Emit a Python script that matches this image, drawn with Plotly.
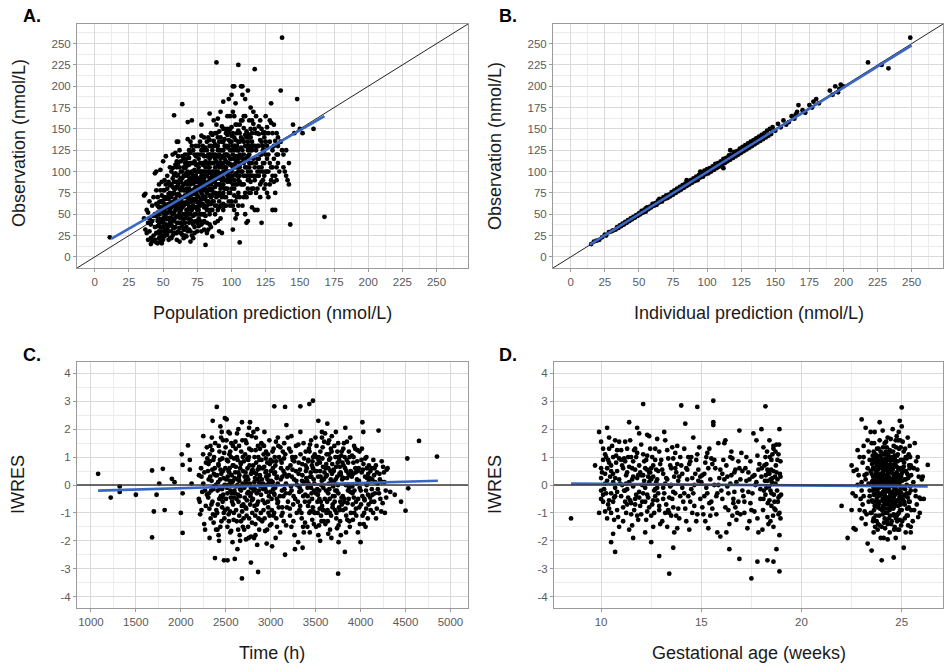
import plotly.graph_objects as go

# ---------------- DATA ----------------
# Panel A: (population prediction, observation) in nmol/L - outer cloud and outliers
A_PRED_OBS = [
    (11, 23),
    (36,72),(37,74),(38,55),(39,40),(40,30),(41,22),(42,18),(43,48),(44,35),(45,62),(38,28),(40,45),(42,60),(44,20),
    (39,52),(41,38),(43,25),(45,17),(37,32),(44,98),(45,100),(42,42),(40,65),(43,70),(36,45),(45,28),(44,50),(41,15),(39,20),(45,78),
    (46,16),(47,22),(48,35),(49,55),(50,45),(51,30),(52,68),(53,80),(54,52),(55,40),(46,60),(47,85),(48,18),(49,72),(50,25),
    (51,90),(52,38),(53,58),(54,20),(55,75),(46,42),(47,50),(48,65),(49,30),(50,112),(51,48),(52,27),(53,95),(54,62),(55,105),
    (46,28),(47,38),(48,78),(49,16),(50,58),(51,70),(52,50),(53,33),(54,88),(55,22),(48,102),(50,78),(52,118),(54,44),(47,64),
    (49,88),(51,24),(53,45),(55,56),(50,35),
    (56,30),(57,50),(58,65),(59,80),(60,95),(61,110),(62,40),(63,55),(64,70),(65,85),(56,100),(57,120),(58,166),(59,35),(60,20),
    (61,48),(62,62),(63,78),(64,92),(65,105),(56,45),(57,25),(58,88),(59,55),(60,72),(61,135),(62,125),(63,28),(64,179),(65,60),
    (56,70),(57,82),(58,42),(59,98),(60,112),(61,65),(62,90),(63,100),(64,45),(65,32),(56,58),(57,35),(58,75),(59,122),(60,48),
    (61,85),(62,18),(63,68),(64,118),(65,50),(57,92),(59,68),(61,40),(63,88),(65,95),(58,52),(60,82),(62,72),(64,58),(60,135),
    (66,40),(67,55),(68,75),(69,90),(70,110),(71,130),(72,60),(73,80),(74,95),(75,120),(66,25),(67,70),(68,158),(69,50),(70,85),
    (71,100),(72,140),(73,35),(74,65),(75,88),(66,95),(67,115),(68,45),(69,68),(70,30),(71,75),(72,95),(73,112),(74,50),(75,72),
    (66,62),(67,88),(68,100),(69,125),(70,58),(71,42),(72,78),(73,92),(74,130),(75,55),(66,78),(67,35),(68,62),(69,108),(70,72),
    (71,160),(72,22),(73,65),(74,82),(75,100),(67,98),(69,80),(71,88),(73,120),(75,40),(68,85),(70,98),(72,110),(74,108),(66,110),
    (68,120),(70,135),(72,48),(74,75),(70,18),
    (76,60),(77,85),(78,100),(79,120),(80,140),(81,70),(82,95),(83,110),(84,130),(85,55),(76,90),(77,110),(78,75),(79,50),(80,88),
    (81,105),(82,125),(83,65),(84,80),(85,98),(76,115),(77,135),(78,155),(79,95),(80,68),(81,14),(82,55),(83,88),(84,105),(85,120),
    (76,45),(77,65),(78,88),(79,108),(80,118),(81,85),(82,75),(83,140),(84,62),(85,85),(76,130),(77,50),(78,125),(79,72),(80,100),
    (81,128),(82,40),(83,98),(84,115),(85,70),(77,100),(79,85),(81,95),(83,78),(85,145),(78,38),(80,78),(82,110),(84,92),(86,24),
    (84,168),(85,35),(80,50),(82,85),(78,110),
    (86,80),(87,100),(88,120),(89,228),(90,140),(91,65),(92,85),(93,105),(94,125),(95,150),(86,110),(87,130),(88,90),(89,70),(90,55),
    (91,95),(92,115),(93,135),(94,75),(95,100),(86,65),(87,75),(88,105),(89,155),(90,118),(91,85),(92,45),(93,90),(94,110),(95,130),
    (86,125),(87,160),(88,60),(89,95),(90,100),(91,120),(92,140),(93,70),(94,92),(95,80),(87,88),(89,112),(91,105),(93,118),(95,60),
    (88,75),(90,85),(92,98),(94,150),(90,162),(92,170),(94,182),(88,145),(91,30),(93,28),(95,115),(86,95),(89,130),(92,60),(94,100),
    (96,90),(97,110),(98,130),(99,75),(100,100),(101,120),(102,140),(103,85),(104,105),(105,125),(96,145),(97,165),(98,185),(99,115),
    (100,135),(101,60),(102,90),(103,110),(104,70),(105,148),(96,70),(97,95),(98,100),(99,150),(100,80),(101,105),(102,115),(103,130),
    (104,145),(105,90),(96,120),(97,80),(98,65),(99,95),(100,190),(101,200),(102,200),(103,180),(104,125),(105,225),(96,105),(98,118),
    (100,115),(102,72),(104,95),(106,17),(105,60),(103,45),(101,32),(99,135),(97,128),(100,152),(102,165),(104,112),(106,105),
    (106,120),(107,140),(108,85),(109,110),(110,130),(111,147),(112,100),(113,120),(114,75),(115,95),(106,155),(107,200),(108,200),
    (109,165),(110,105),(111,115),(112,135),(113,90),(114,140),(115,125),(106,88),(107,100),(108,125),(109,70),(110,50),(111,40),
    (112,80),(113,160),(114,110),(115,58),(108,190),(110,185),(112,195),(114,175),(107,118),(109,135),(111,95),(113,105),(115,145),
    (108,60),(110,115),(112,42),(114,125),(106,135),(113,140),
    (116,95),(117,220),(118,110),(119,130),(120,153),(121,85),(122,105),(123,125),(124,140),(125,165),(116,170),(117,130),(118,75),
    (119,55),(120,115),(121,160),(122,40),(123,100),(124,80),(125,120),(116,115),(118,145),(120,95),(122,135),(124,110),(117,55),
    (119,100),(121,120),(123,145),(125,100),(116,156),(118,165),(120,130),(122,88),(124,146),
    (126,130),(127,145),(128,110),(129,90),(130,125),(131,155),(132,75),(133,105),(134,140),(126,100),(127,70),(128,160),(129,180),
    (130,55),(131,88),(132,95),(133,120),(134,130),(126,75),(128,85),(130,105),(132,55),(134,110),(126,152),(130,145),
    (136,195),(137,257),(138,120),(139,100),(140,125),(141,90),(142,110),(143,38),(145,155),(146,145),(148,185),(150,150),(152,145),
    (160,150),(168,47),(136,135),(138,105),(140,95),(137,125),(142,85),
]
# Panel A: dense core of the cloud
A_PRED_OBS_CORE = [
    (45,48),(46,52),(47,30),(48,58),(49,42),(50,66),(51,55),(52,44),(53,70),(54,36),(55,62),(46,36),(47,58),(48,26),(49,64),(50,40),
    (51,62),(52,32),(53,52),(54,74),(55,46),(46,70),(48,44),(50,52),(52,60),(54,30),(47,44),(49,24),(51,78),(53,26),(55,84),(50,20),
    (52,85),(54,68),
    (56,52),(57,62),(58,34),(59,46),(60,58),(61,74),(62,52),(63,40),(64,82),(65,70),(56,64),(57,44),(58,96),(59,62),(60,40),(61,56),
    (62,80),(63,92),(64,36),(65,44),(56,85),(57,74),(58,28),(59,108),(60,65),(61,30),(62,105),(63,48),(64,100),(65,78),(56,38),(58,60),
    (60,88),(62,34),(64,64),(57,104),(59,28),(61,96),(63,112),(65,22),(58,80),(60,105),(62,46),(64,26),(56,22),(59,88),(61,118),(63,60),
    (65,115),(60,28),
    (66,50),(67,64),(68,88),(69,58),(70,78),(71,92),(72,68),(73,50),(74,88),(75,64),(66,72),(67,80),(68,54),(69,98),(70,64),(71,55),
    (72,86),(73,102),(74,58),(75,80),(66,86),(67,46),(68,110),(69,40),(70,92),(71,110),(72,38),(73,74),(74,118),(75,92),(66,104),
    (67,106),(68,30),(69,116),(70,44),(71,65),(72,100),(73,58),(74,42),(75,108),(66,32),(68,95),(70,122),(72,125),(74,100),(67,24),
    (69,32),(71,25),(73,28),(75,30),(66,120),(68,138),(70,50),(72,90),(74,68),
    (76,70),(77,92),(78,62),(79,100),(80,92),(81,112),(82,65),(83,85),(84,100),(85,78),(76,100),(77,78),(78,95),(79,62),(80,110),
    (81,58),(82,100),(83,120),(84,72),(85,110),(76,82),(77,120),(78,50),(79,130),(80,58),(81,95),(82,118),(83,55),(84,137),(85,92),
    (76,55),(77,42),(78,142),(79,82),(80,125),(81,80),(82,135),(83,105),(84,50),(85,130),(76,105),(78,68),(80,42),(82,60),(84,120),
    (77,60),(79,40),(81,48),(83,32),(85,62),(78,30),(80,32),(82,28),(84,38),(76,36),
    (86,90),(87,110),(88,82),(89,100),(90,125),(91,75),(92,108),(93,95),(94,85),(95,120),(86,100),(87,92),(88,115),(89,85),(90,72),
    (91,110),(92,80),(93,125),(94,118),(95,90),(86,72),(87,120),(88,98),(89,118),(90,108),(91,58),(92,125),(93,82),(94,62),(95,138),
    (86,118),(87,65),(88,132),(89,60),(90,92),(91,135),(92,92),(93,60),(94,135),(95,105),(86,55),(88,50),(90,42),(92,72),(94,55),
    (87,136),(89,145),(91,147),(93,153),(95,70),(86,143),(88,40),(90,130),(92,110),
    (96,100),(97,120),(98,92),(99,108),(100,125),(101,85),(102,108),(103,98),(104,118),(105,105),(96,112),(97,100),(98,137),(99,88),
    (100,108),(101,130),(102,125),(103,118),(104,85),(105,115),(96,80),(97,143),(98,110),(99,125),(100,92),(101,95),(102,80),(103,137),
    (104,130),(105,75),(96,130),(97,88),(98,75),(99,60),(100,142),(101,145),(102,130),(103,65),(104,155),(105,135),(96,60),(98,146),
    (100,65),(102,55),(104,50),(97,150),(99,165),(101,170),(103,155),(105,100),
    (106,110),(107,128),(108,115),(109,120),(110,95),(111,130),(112,118),(113,110),(114,100),(115,110),(106,95),(107,85),(108,138),
    (109,95),(110,143),(111,105),(112,90),(113,130),(114,130),(115,80),(106,145),(107,110),(108,100),(109,151),(110,75),(111,140),
    (112,144),(113,75),(114,88),(115,135),(106,70),(108,160),(110,165),(112,125),(114,150),(107,160),(109,85),(111,70),(113,95),(115,160),
    (116,130),(117,105),(118,125),(119,115),(120,105),(121,137),(122,120),(123,110),(124,125),(125,135),(116,80),(117,150),(118,95),
    (119,145),(120,144),(121,100),(122,150),(123,90),(124,95),(125,145),(117,90),(119,80),(121,70),(123,130),(125,85),
    (126,115),(127,120),(128,135),(129,105),(130,95),(131,115),(132,136),(133,90),(134,120),(127,100),(129,157),(131,130),(133,145),(135,100),
]

# Panel B: (individual prediction, observation) in nmol/L
B_IPRED_OBS = [
    (15,15),(17,18),(19,19),(21,20),(23,23),(25,26),(26,25),(28,29),(30,30),(31,31),(33,32),(34,35),(35,34),(36,37),(37,36),
    (38,39),(39,38),(40,41),(41,40),(42,43),(43,42),(44,45),(45,44),(46,47),(47,46),(48,49),(49,48),(50,51),(51,50),(52,54),
    (53,52),(54,55),(55,53),(56,58),(57,56),(58,59),(59,58),(60,62),(61,60),(62,63),(63,61),(64,66),(65,64),(66,67),(67,65),
    (68,70),(69,68),(70,72),(71,69),(72,73),(73,71),(74,76),(75,73),(76,78),(77,75),(78,80),(79,77),(80,82),(81,79),(82,84),
    (83,81),(84,86),(85,83),(86,88),(87,85),(88,90),(89,87),(90,92),(91,89),(92,94),(93,90),(94,96),(95,93),(96,98),(97,94),
    (98,101),(99,97),(100,103),(101,98),(102,104),(103,100),(104,106),(105,102),(106,109),(107,104),(108,110),(109,106),(110,112),
    (111,108),(112,115),(113,110),(114,116),(115,112),(116,119),(117,114),(118,120),(119,116),(120,123),(121,118),(122,124),
    (123,120),(124,127),(125,122),(126,129),(127,124),(128,131),(129,126),(130,133),(131,128),(132,135),(133,130),(134,137),
    (135,132),(136,139),(137,134),(138,141),(139,136),(140,143),(141,138),(142,145),(143,140),(144,148),(145,142),(146,150),
    (147,144),(148,152),(150,148),(152,156),(154,152),(156,160),(158,155),(160,158),(162,165),(164,162),(166,170),(167,178),
    (165,167),(170,172),(172,169),(175,178),(177,175),(178,182),(180,185),(182,180),(190,195),(192,190),(194,200),(196,193),
    (198,202),(200,200),(197,197),(218,228),(228,225),(233,221),(249,257),(112,104),(117,125),(95,100),(85,90),(65,68),(55,57),
    (40,40),(42,42),(44,44),(46,46),(48,48),(50,50),(52,52),(54,54),(56,56),(58,58),(60,60),(62,61),(64,64),(66,65),(68,68),
    (70,70),(72,71),(74,74),(76,75),(78,78),(80,80),(82,81),(84,84),(86,85),(88,88),(90,90),(92,91),(94,94),(96,95),(98,98),
    (100,100),(102,101),(104,104),(106,105),(108,108),(110,110),(112,111),(114,114),(116,115),(118,118),(120,120),(122,121),
    (124,124),(126,125),(128,128),(130,130),(132,131),(134,134),(136,135),(138,138),
]

# Panel C: (time in h, IWRES) - sparse part and outliers
C_TIME_IWRES = [
    (1080,0.4),(1220,-0.45),(1320,-0.05),(1320,-0.25),(1500,-0.35),(1680,0.52),(1680,-1.88),(1700,-0.95),(1730,-0.35),(1760,0.05),
    (1800,0.58),(1820,-0.9),(1900,0.22),(1930,0.1),(2000,-1.0),(2010,1.1),(2020,0.72),(2020,-1.72),(2020,-0.3),(2080,1.42),
    (2100,0.9),(2100,0.55),(2120,0.05),(2400,2.8),(2480,-2.7),(2520,-2.7),(2380,-2.62),(2600,-2.65),(2680,-3.35),(2780,-2.78),
    (2860,-3.12),(3040,2.82),(3160,2.8),(3330,2.82),(3430,2.9),(3470,3.02),(3750,-3.18),(4000,-2.05),(4020,2.25),(4200,1.95),
    (4520,0.95),(4530,-0.12),(4650,1.58),(4850,1.02),(4500,-0.92),(4270,-1.0),(4330,-0.25),(4380,-0.35),(4450,-0.6),(4300,0.6),
    (2210,-0.6),(2230,0.3),(2250,1.75),(2260,-1.4),(2270,-0.2),(2280,0.8),(2230,-0.9),(2290,1.35),(2250,0.05),(2270,-1.6),(2200,-0.5),(2290,-0.35),
    (2310,0.2),(2320,-1.9),(2330,1.4),(2340,-0.7),(2350,0.55),(2360,-0.15),(2370,1.0),(2380,-1.1),(2390,0.0),(2305,-0.45),(2325,0.85),
    (2345,1.7),(2365,-1.35),(2385,0.35),(2395,-0.9),(2355,2.3),
    (2410,-0.2),(2420,0.7),(2430,1.2),(2440,-1.5),(2450,0.4),(2460,-0.8),(2470,1.6),(2480,-0.05),(2490,2.4),(2405,-1.0),(2415,0.1),
    (2425,-2.0),(2435,0.9),(2445,-0.4),(2455,1.9),(2465,-0.6),(2475,0.25),(2485,-1.2),(2495,0.6),(2440,2.1),
    (2510,2.35),(2520,-0.3),(2530,0.5),(2540,1.1),(2550,-1.7),(2560,0.05),(2570,-0.6),(2580,1.4),(2590,-1.0),(2505,0.2),(2515,-0.1),
    (2525,0.85),(2535,-1.3),(2545,1.85),(2555,-0.45),(2565,0.35),(2575,-2.05),(2585,0.7),(2595,-0.2),(2550,1.2),(2520,-0.85),(2580,0.15),
    (2610,1.3),(2620,-0.5),(2630,0.0),(2640,2.0),(2650,-1.1),(2660,0.6),(2670,-0.2),(2680,2.25),(2690,-1.5),(2605,0.45),(2615,-0.9),
    (2625,1.0),(2635,-0.35),(2645,0.25),(2655,-1.8),(2665,0.8),(2675,-0.05),(2685,1.6),(2695,-0.7),(2650,0.15),(2630,-2.3),(2670,-1.3),
    (2710,0.3),(2720,-0.8),(2730,1.5),(2740,-0.3),(2750,0.9),(2760,-1.2),(2770,2.25),(2780,-0.1),(2790,0.5),(2705,-1.6),(2715,1.1),
    (2725,0.05),(2735,-0.55),(2745,1.8),(2755,-1.9),(2765,0.7),(2775,-0.4),(2785,1.25),(2795,-1.0),(2750,0.2),(2720,0.45),(2780,-1.85),
    (2810,-0.2),(2820,1.0),(2830,-1.4),(2840,0.4),(2850,2.0),(2860,-0.6),(2870,0.1),(2880,1.3),(2890,-1.0),(2805,0.7),(2815,-1.9),
    (2825,0.25),(2835,1.7),(2845,-0.3),(2855,0.55),(2865,-1.2),(2875,0.9),(2885,-0.05),(2895,1.5),(2850,-2.15),(2820,-0.75),(2880,0.35),
    (2910,0.6),(2920,-0.9),(2930,1.9),(2940,-0.15),(2950,0.3),(2960,-1.6),(2970,1.1),(2980,-0.4),(2990,0.75),(2905,-1.3),(2915,0.05),
    (2925,1.4),(2935,-0.65),(2945,0.95),(2955,-2.1),(2965,0.2),(2975,-1.0),(2985,1.6),(2995,-0.25),(2950,0.5),
    (3010,-0.5),(3020,1.2),(3030,-1.1),(3040,0.4),(3050,-0.1),(3060,0.85),(3070,-1.5),(3080,1.7),(3090,-0.8),(3005,0.15),(3015,-2.2),
    (3025,0.6),(3035,-0.3),(3045,1.0),(3055,-1.9),(3065,0.25),(3075,-0.65),(3085,1.4),
    (3110,0.9),(3120,-1.1),(3130,0.3),(3140,-0.4),(3150,1.5),(3160,-2.5),(3170,0.05),(3180,-0.8),(3190,1.7),(3105,-1.7),(3115,0.6),
    (3125,-0.2),(3135,1.2),(3145,-1.3),(3155,0.4),(3175,2.15),
    (3210,-0.3),(3220,0.7),(3230,-1.5),(3240,1.0),(3250,-0.7),(3260,0.2),(3270,-2.3),(3280,0.5),(3290,-1.0),(3205,1.3),(3225,-0.05),
    (3245,0.9),(3265,-1.8),(3285,0.15),(3230,1.75),
    (3310,0.4),(3320,-0.9),(3330,1.9),(3340,-0.2),(3350,0.75),(3360,-1.5),(3370,0.1),(3380,-0.6),(3390,1.2),(3305,-2.05),(3325,0.55),
    (3345,-1.2),(3365,1.5),(3385,-0.35),(3395,0.25),(3355,-2.25),
    (3410,-0.1),(3420,0.9),(3430,-1.0),(3440,0.3),(3450,1.6),(3460,-0.5),(3470,0.6),(3480,-1.4),(3490,1.1),(3405,0.15),(3415,-0.75),
    (3425,1.3),(3435,-1.7),(3445,0.45),(3455,-0.3),(3465,0.85),(3475,-0.95),(3485,0.05),
    (3510,1.4),(3520,-0.6),(3530,2.3),(3540,-0.2),(3550,0.5),(3560,-1.1),(3570,1.7),(3580,-0.9),(3590,0.2),(3505,-1.5),(3515,0.75),
    (3525,-0.35),(3535,1.0),(3545,-0.85),(3555,0.3),(3565,-1.3),(3575,0.95),(3585,-0.1),(3595,1.55),(3550,-2.0),
    (3610,0.6),(3620,-1.0),(3630,2.2),(3640,-0.3),(3650,0.9),(3660,-1.6),(3670,1.3),(3680,0.1),(3690,-0.7),(3605,1.85),(3615,-0.2),
    (3625,0.35),(3635,-1.3),(3645,1.1),(3655,-0.5),(3665,0.5),(3675,-1.9),(3685,0.75),(3695,-0.05),(3650,1.6),
    (3710,-0.4),(3720,1.0),(3730,-1.2),(3740,0.3),(3750,1.5),(3760,-0.8),(3770,0.65),(3780,-1.8),(3790,1.2),(3705,0.1),(3715,-0.9),
    (3725,1.9),(3735,-0.2),(3745,0.8),(3755,-1.45),(3765,0.4),(3775,-0.6),(3785,1.05),(3795,0.2),(3755,-2.05),
    (3810,0.7),(3820,-0.5),(3830,2.05),(3840,-1.1),(3850,0.25),(3860,-0.2),(3870,1.2),(3880,-1.5),(3890,0.5),(3805,-0.9),(3815,1.5),
    (3825,-2.4),(3835,0.0),(3845,0.9),(3855,-0.65),(3865,0.4),(3875,-1.3),(3885,1.7),
    (3910,-0.3),(3920,0.8),(3930,-1.0),(3940,1.3),(3950,-0.6),(3960,0.2),(3970,-1.7),(3980,0.6),(3990,-0.1),(3905,1.05),(3925,-0.45),
    (3945,0.45),(3965,1.25),(3985,-0.8),(3915,-1.25),(3955,0.05),
    (4010,0.9),(4020,-0.4),(4030,1.9),(4040,-1.0),(4050,0.3),(4060,-0.2),(4070,0.6),(4080,-1.2),(4090,0.1),(4005,-0.7),(4025,0.55),
    (4045,-0.55),(4065,1.0),(4085,0.4),(4055,-1.5),
    (4110,0.5),(4120,-0.6),(4130,0.2),(4140,-1.0),(4150,0.35),(4160,-0.3),(4170,0.7),(4180,-0.85),(4190,0.05),(4125,-0.15),(4155,0.6),(4105,-0.45),
    (4210,0.4),(4220,-0.5),(4240,0.1),(4260,0.45),(4280,-0.2),(4230,-0.95),(4250,0.65),(4290,0.55),
]
# Panel C: dense core
C_TIME_IWRES_CORE = [
    (2202,0.35),(2215,-1.05),(2225,0.6),(2238,-0.25),(2248,1.1),(2262,0.45),(2278,-0.75),(2295,0.95),
    (2302,0.5),(2312,-0.3),(2322,1.1),(2332,-1.2),(2342,0.15),(2352,-0.6),(2362,0.9),(2372,-0.05),(2382,1.5),(2392,-1.6),(2308,0.75),
    (2318,-0.85),(2328,0.3),(2338,-0.2),(2348,1.25),(2358,-1.05),(2368,0.4),(2378,0.6),
    (2402,0.35),(2412,-0.7),(2422,1.4),(2432,-0.1),(2442,0.55),(2452,-1.3),(2462,0.95),(2472,-0.35),(2482,1.15),(2492,-0.9),(2408,-1.6),
    (2418,0.75),(2428,-0.5),(2438,0.2),(2448,1.7),(2458,-0.15),(2468,0.5),(2478,-1.0),(2488,0.0),(2498,1.35),(2420,-1.8),(2460,-0.45),
    (2502,-0.5),(2512,0.9),(2522,0.3),(2532,-1.05),(2542,0.6),(2552,-0.2),(2562,1.5),(2572,0.1),(2582,-0.7),(2592,0.95),(2508,1.6),
    (2518,-1.5),(2528,0.0),(2538,0.45),(2548,-0.95),(2558,1.0),(2568,-0.3),(2578,0.7),(2588,-1.25),(2598,0.25),(2530,1.9),(2560,-1.65),
    (2590,-0.45),(2545,0.15),
    (2602,-0.3),(2612,0.65),(2622,-1.3),(2632,0.9),(2642,-0.6),(2652,0.35),(2662,-0.15),(2672,1.2),(2682,-0.95),(2692,0.5),(2608,1.55),
    (2618,-0.05),(2628,0.2),(2638,-1.6),(2648,1.4),(2658,-0.4),(2668,0.75),(2678,-0.75),(2688,0.05),(2698,-1.2),(2625,1.85),(2660,-2.0),
    (2690,1.0),(2640,0.45),
    (2702,0.85),(2712,-0.45),(2722,0.15),(2732,-1.1),(2742,0.6),(2752,-0.25),(2762,1.3),(2772,-0.7),(2782,0.4),(2792,-1.35),(2708,-0.1),
    (2718,1.6),(2728,-0.85),(2738,0.3),(2748,-1.5),(2758,1.0),(2768,0.05),(2778,-0.3),(2788,1.75),(2798,0.55),(2725,-1.95),(2760,2.05),
    (2790,-0.55),(2740,0.95),
    (2802,-0.5),(2812,0.45),(2822,-0.15),(2832,1.25),(2842,-0.9),(2852,0.2),(2862,1.0),(2872,-1.6),(2882,0.6),(2892,-0.35),(2808,1.9),
    (2818,0.1),(2828,-1.1),(2838,0.8),(2848,-0.7),(2858,1.4),(2868,-0.2),(2878,0.3),(2888,-1.25),(2898,0.9),(2830,-1.8),(2870,0.65),
    (2902,0.2),(2912,-0.55),(2922,1.1),(2932,-1.2),(2942,0.45),(2952,-0.25),(2962,0.8),(2972,-0.8),(2982,0.1),(2992,-1.45),(2908,1.45),
    (2918,-0.15),(2928,0.65),(2938,-1.65),(2948,1.2),(2958,0.0),(2968,-0.6),(2978,0.35),(2988,-1.1),(2998,0.9),
    (3002,0.5),(3012,-0.9),(3022,0.1),(3032,1.3),(3042,-0.35),(3052,0.7),(3062,-1.2),(3072,0.3),(3082,-0.6),(3092,1.0),(3008,-1.4),
    (3018,0.85),(3028,-0.15),(3038,-1.0),(3048,0.45),(3058,1.55),(3068,-0.5),(3078,0.05),
    (3102,-0.4),(3112,0.2),(3122,0.8),(3132,-1.0),(3142,0.5),(3152,-0.15),(3162,1.1),(3172,-1.45),(3182,0.3),(3192,-0.6),(3108,1.35),
    (3128,-0.8),(3148,0.95),(3168,-0.3),(3188,0.6),
    (3202,0.35),(3212,-0.85),(3222,1.2),(3232,-0.2),(3242,0.55),(3252,-1.3),(3262,0.85),(3272,-0.5),(3282,1.4),(3292,0.0),(3215,-1.1),
    (3235,0.3),(3255,-0.4),(3275,1.0),
    (3302,-0.6),(3312,0.8),(3322,-0.1),(3332,1.1),(3342,-1.0),(3352,0.35),(3362,-0.4),(3372,0.95),(3382,-1.35),(3392,0.5),(3308,1.45),
    (3328,-0.75),(3348,0.15),(3368,-1.7),(3388,0.7),(3318,-0.25),
    (3402,0.6),(3412,-0.4),(3422,0.05),(3432,1.2),(3442,-0.95),(3452,0.3),(3462,-1.25),(3472,1.0),(3482,-0.2),(3492,0.5),(3408,-1.5),
    (3418,0.85),(3428,-0.6),(3438,1.45),(3448,-0.1),(3458,0.7),(3468,-0.8),(3478,0.2),(3488,-1.0),(3498,1.7),
    (3502,-0.3),(3512,0.5),(3522,-1.0),(3532,0.9),(3542,-0.5),(3552,1.2),(3562,0.0),(3572,-0.75),(3582,0.65),(3592,-1.3),(3508,1.0),
    (3518,-0.15),(3528,0.3),(3538,-1.45),(3548,0.8),(3558,-0.6),(3568,0.15),(3578,1.35),(3588,-0.9),(3598,0.45),(3530,-1.8),(3570,1.9),
    (3602,-0.5),(3612,0.3),(3622,1.1),(3632,-0.9),(3642,0.6),(3652,-0.15),(3662,0.95),(3672,-1.1),(3682,0.4),(3692,-0.4),(3608,-1.4),
    (3618,0.75),(3628,-0.6),(3638,1.5),(3648,0.05),(3658,-1.0),(3668,0.2),(3678,1.2),(3688,-0.8),(3698,0.55),(3640,-1.75),(3680,1.75),
    (3702,0.5),(3712,-0.6),(3722,0.2),(3732,-1.0),(3742,1.2),(3752,-0.3),(3762,0.9),(3772,-1.3),(3782,0.35),(3792,-0.7),(3708,1.4),
    (3718,-0.2),(3728,0.65),(3738,-1.55),(3748,0.0),(3758,1.0),(3768,-0.9),(3778,0.45),(3788,-0.45),(3798,0.8),
    (3802,-0.4),(3812,0.25),(3822,1.0),(3832,-0.85),(3842,0.5),(3852,-1.25),(3862,0.8),(3872,-0.1),(3882,0.35),(3892,-1.0),(3808,1.3),
    (3818,-0.6),(3828,0.6),(3838,-1.7),(3848,1.55),(3858,0.0),(3868,-0.5),(3878,1.0),(3888,-0.25),(3898,0.45),
    (3902,0.3),(3912,-0.7),(3922,1.0),(3932,-0.2),(3942,0.6),(3952,-1.1),(3962,0.85),(3972,-0.5),(3982,0.15),(3992,-1.4),(3908,-0.05),
    (3928,1.4),(3948,-0.85),(3968,0.5),(3988,1.2),(3918,0.4),
    (4002,-0.2),(4012,0.45),(4022,-1.1),(4032,0.75),(4042,-0.5),(4052,0.95),(4062,-0.85),(4072,0.25),(4082,-0.35),(4092,0.7),(4015,1.3),
    (4035,-1.4),(4068,0.0),(4088,-0.7),
    (4102,0.25),(4112,-0.9),(4122,0.6),(4132,-0.35),(4142,0.9),(4152,-0.6),(4162,0.1),(4172,-1.2),(4182,0.45),(4192,-0.15),
    (4205,-0.3),(4215,0.2),(4235,0.85),(4245,-0.65),(4265,0.1),(4285,-0.45),
]

# Panel D: (gestational age in weeks, IWRES) - sparse part and outliers
D_GA_IWRES = [
    (8.5,-1.2),(9.7,0.7),(12.1,2.9),(14.0,2.85),(14.8,2.8),(15.6,3.02),(18.2,2.82),(13.4,-3.18),(17.5,-3.35),(18.9,-3.1),
    (12.9,-2.55),(13.6,-2.25),(10.7,-2.4),(10.5,-2.05),(16.4,-2.3),(16.9,-2.65),(17.8,-2.75),(18.3,-2.7),(18.6,-2.75),
    (22.0,-0.75),(22.3,-1.9),(22.5,-0.9),(23.0,2.35),(24.0,-2.7),(24.6,-2.6),(25.0,2.78),(26.3,0.72),(23.9,2.25),(25.1,-2.25),
    (9.9,1.9),(10.0,1.55),(10.1,0.9),(10.2,0.4),(10.0,-0.2),(10.1,-0.6),(9.9,-1.0),(10.3,2.05),(10.4,1.3),(10.5,0.7),(10.6,0.1),
    (10.7,-0.4),(10.8,-0.9),(10.3,-1.2),(10.5,-0.3),(10.6,1.0),(10.8,0.5),(10.2,0.05),(10.4,-0.55),(10.7,1.6),(10.9,-1.5),(10.0,0.25),
    (10.6,-1.75),(10.3,0.6),(10.8,1.25),(10.1,-0.35),(10.4,0.8),(10.9,0.2),(10.5,-1.0),(10.7,-0.1),(10.2,1.1),(10.9,1.55),(10.0,0.6),
    (10.6,0.4),(10.4,-0.85),
    (11.0,1.25),(11.1,0.6),(11.2,-0.2),(11.3,-0.7),(11.4,2.25),(11.5,1.0),(11.6,0.3),(11.7,-0.5),(11.8,-1.1),(11.9,1.85),(11.0,-0.4),
    (11.1,-1.3),(11.2,0.85),(11.3,1.3),(11.4,0.1),(11.5,-0.65),(11.6,-1.9),(11.7,0.55),(11.8,1.15),(11.9,-0.25),(11.05,0.0),(11.25,-1.0),
    (11.45,1.6),(11.65,-0.9),(11.85,0.35),(11.15,0.95),(11.35,-0.45),(11.55,-1.45),(11.75,1.0),(11.95,-0.75),(11.3,0.45),(11.6,-0.05),
    (11.9,0.7),(11.2,-0.6),(11.8,2.05),
    (12.0,1.45),(12.1,-0.3),(12.2,0.6),(12.3,1.8),(12.4,-0.8),(12.5,0.2),(12.6,-1.5),(12.7,0.9),(12.8,-0.1),(12.9,1.2),(12.0,-1.05),
    (12.1,0.35),(12.2,-0.6),(12.3,1.05),(12.4,0.45),(12.5,-2.05),(12.6,0.7),(12.7,-0.4),(12.8,1.65),(12.9,-0.9),(12.05,0.0),(12.25,-1.25),
    (12.45,1.3),(12.65,-0.2),(12.85,0.5),(12.15,0.85),(12.35,0.3),(12.55,-0.7),(12.75,0.1),(12.95,-1.4),(12.4,1.75),(12.2,-1.7),
    (12.6,0.3),(12.8,-0.55),(12.3,0.55),
    (13.0,0.9),(13.1,-0.5),(13.2,1.6),(13.3,0.2),(13.4,-1.0),(13.5,0.6),(13.6,-0.25),(13.7,1.15),(13.8,-1.55),(13.9,0.3),(13.05,-1.3),
    (13.15,1.9),(13.25,-0.7),(13.35,0.95),(13.45,-0.05),(13.55,1.35),(13.65,-1.7),(13.75,0.45),(13.85,-0.85),(13.95,1.0),(13.2,0.05),
    (13.5,-1.1),(13.8,0.75),(13.1,0.4),(13.4,-0.45),(13.7,-0.3),(13.3,-1.5),(13.6,0.95),
    (14.0,0.7),(14.1,-0.6),(14.2,2.2),(14.3,0.2),(14.4,-1.6),(14.5,1.0),(14.6,-0.3),(14.7,0.4),(14.8,-1.05),(14.9,1.35),(14.05,-0.1),
    (14.25,-1.3),(14.45,0.85),(14.65,-0.75),(14.85,0.15),(14.15,1.3),(14.35,-0.4),(14.55,-1.0),(14.75,0.9),(14.95,-0.5),(14.6,1.7),(14.3,0.55),
    (15.0,0.1),(15.1,-1.05),(15.2,0.8),(15.3,-0.3),(15.4,1.3),(15.5,-0.6),(15.6,2.15),(15.7,0.6),(15.8,-1.7),(15.9,0.25),(15.05,-0.8),
    (15.25,1.0),(15.45,-1.1),(15.65,0.0),(15.85,1.5),(15.15,0.4),(15.35,-1.55),(15.55,0.75),(15.75,-0.4),(15.95,-1.85),(15.6,2.25),(15.3,1.15),
    (16.0,-0.2),(16.1,0.9),(16.2,-0.8),(16.3,0.3),(16.4,-1.4),(16.5,1.2),(16.6,-0.5),(16.7,0.55),(16.8,-1.0),(16.9,1.95),(16.05,0.4),
    (16.25,-1.7),(16.45,0.05),(16.65,-0.25),(16.85,0.85),(16.15,1.5),(16.35,-0.9),(16.55,0.95),(16.75,-1.25),(16.95,0.2),(16.2,1.6),(16.6,-0.65),
    (17.0,1.15),(17.1,-0.4),(17.2,0.6),(17.3,-1.55),(17.4,0.2),(17.5,-0.9),(17.6,1.85),(17.7,0.0),(17.8,-1.2),(17.9,0.75),(17.05,-0.2),
    (17.25,1.0),(17.45,-0.65),(17.65,0.35),(17.85,-1.7),(17.15,-1.0),(17.35,0.45),(17.55,-0.3),(17.75,1.6),(17.95,-0.5),
    (18.0,0.3),(18.1,-0.5),(18.2,1.0),(18.3,-1.15),(18.4,0.4),(18.5,-0.3),(18.6,1.3),(18.7,-0.9),(18.8,0.2),(18.9,2.0),(18.05,-1.6),
    (18.15,0.7),(18.25,-0.1),(18.35,0.45),(18.45,-1.3),(18.55,0.25),(18.65,-0.6),(18.75,1.45),(18.85,-1.05),(18.95,0.3),(18.1,1.35),
    (18.3,0.55),(18.5,-0.75),(18.7,0.05),(18.9,-0.4),(18.2,-0.35),(18.4,1.6),(18.6,-1.5),(18.8,0.9),(18.95,-1.2),(18.3,0.15),(18.6,0.5),
    (18.85,1.1),(18.45,-0.2),(18.75,-2.3),(18.9,-1.8),(18.0,2.0),(18.5,0.9),(18.7,1.2),(18.4,-0.55),
    (22.5,0.7),(22.6,0.5),(22.7,-0.4),(22.8,1.25),(22.9,-0.9),(23.0,0.1),(23.1,1.4),(23.2,-1.4),(23.3,0.6),(23.4,-0.2),(22.6,-1.55),
    (22.9,1.0),(23.05,-0.7),(23.15,0.35),(23.25,-1.05),(23.35,1.2),(23.2,2.05),(23.3,-2.1),(22.8,0.0),(23.0,-1.2),(23.4,0.9),(23.1,-0.4),
    (22.7,-1.6),(23.35,-0.6),(23.45,1.9),
    (23.5,0.4),(23.55,-0.6),(23.6,1.2),(23.65,-0.1),(23.7,0.8),(23.75,-1.3),(23.8,0.25),(23.85,-0.4),(23.9,1.6),(23.95,0.0),(23.5,-1.0),
    (23.55,0.9),(23.6,-1.7),(23.65,0.55),(23.7,-0.3),(23.75,1.0),(23.8,-0.8),(23.85,0.3),(23.9,-1.45),(23.95,0.7),(23.5,1.5),(23.55,0.15),
    (23.6,-0.35),(23.65,1.9),(23.7,-1.1),(23.75,0.45),(23.8,-0.05),(23.85,1.3),(23.9,-0.6),(23.95,-1.9),(23.6,0.6),(23.7,0.15),(23.8,-0.25),
    (23.9,0.35),(23.55,-0.2),(23.65,-0.75),(23.75,-0.5),(23.85,0.85),(23.95,1.2),(23.5,-2.35),
    (24.0,0.3),(24.05,-0.5),(24.1,1.1),(24.15,-1.2),(24.2,0.6),(24.25,-0.2),(24.3,1.7),(24.35,0.05),(24.4,-0.9),(24.45,0.45),(24.0,-1.5),
    (24.05,0.8),(24.1,-0.1),(24.15,0.35),(24.2,-0.7),(24.25,1.35),(24.3,-1.4),(24.35,0.65),(24.4,0.2),(24.45,-0.35),(24.0,0.95),(24.05,0.1),
    (24.1,-0.6),(24.15,1.5),(24.2,-1.0),(24.25,0.25),(24.3,-0.45),(24.35,1.0),(24.4,-1.7),(24.45,0.75),(24.0,-0.3),(24.05,1.95),(24.1,0.5),
    (24.15,-0.85),(24.2,0.15),(24.25,-1.3),(24.3,0.4),(24.35,-0.15),(24.4,1.25),(24.45,-0.55),(24.1,-1.9),(24.2,1.2),(24.3,0.9),(24.4,-0.25),
    (24.15,0.0),(24.25,0.55),(24.35,-0.7),(24.05,-1.05),(24.45,1.65),(24.3,-1.95),
    (24.5,0.2),(24.55,-0.6),(24.6,1.4),(24.65,-0.15),(24.7,0.7),(24.75,-1.1),(24.8,0.35),(24.85,1.9),(24.9,-0.4),(24.95,0.9),(24.5,-1.3),
    (24.55,0.55),(24.6,-0.8),(24.65,1.05),(24.7,-0.3),(24.75,0.15),(24.8,-1.6),(24.85,0.6),(24.9,2.3),(24.95,-0.7),(24.5,1.0),(24.55,-0.05),
    (24.6,0.3),(24.65,-1.5),(24.7,1.6),(24.75,0.45),(24.8,-0.2),(24.85,-1.0),(24.9,0.1),(24.95,1.35),(24.6,-0.45),(24.7,-1.9),(24.8,1.1),
    (24.9,-1.25),(24.55,2.0),(24.65,0.75),(24.75,-0.55),(24.85,0.0),(24.95,-0.25),(24.5,0.65),(24.6,-1.05),(24.7,0.1),(24.8,0.85),
    (24.9,-0.6),(24.75,1.75),
    (25.0,0.4),(25.05,-0.5),(25.1,1.2),(25.15,-1.2),(25.2,0.2),(25.25,-0.3),(25.3,1.7),(25.35,-0.8),(25.4,0.6),(25.45,-1.5),(25.0,2.1),
    (25.05,0.9),(25.1,-0.1),(25.15,0.5),(25.2,-1.7),(25.25,0.95),(25.3,-0.45),(25.35,0.3),(25.4,1.4),(25.45,-0.2),(25.0,-0.9),(25.1,0.65),
    (25.2,1.0),(25.3,-1.1),(25.4,-0.6),(25.05,1.55),(25.15,-0.7),(25.25,0.0),(25.35,1.1),(25.45,0.7),
    (25.6,0.6),(25.7,-0.4),(25.8,1.0),(25.9,-1.0),(26.0,0.2),(25.65,1.5),(25.75,-0.7),(25.85,0.3),(25.95,-0.5),(25.55,-1.3),(26.1,-0.5),
]
# Panel D: dense core of both groups
D_GA_IWRES_CORE = [
    (10.05,0.45),(10.15,-0.15),(10.25,1.0),(10.35,-0.7),(10.45,0.3),(10.55,1.4),(10.65,-0.45),(10.75,0.8),(10.85,-1.15),(10.95,0.05),
    (10.1,1.3),(10.2,-0.95),(10.3,0.15),(10.4,1.7),(10.5,0.5),(10.6,-0.6),(10.7,0.25),(10.8,-0.25),(10.9,0.95),(10.0,-0.5),(10.35,0.9),
    (10.65,-1.25),(10.75,1.05),(10.25,-0.3),
    (11.05,0.7),(11.15,-0.2),(11.25,0.35),(11.35,1.0),(11.45,-0.55),(11.55,0.2),(11.65,1.25),(11.75,-0.35),(11.85,-1.25),(11.95,0.45),
    (11.1,-0.8),(11.2,1.55),(11.3,-0.15),(11.4,0.65),(11.5,-1.05),(11.6,0.85),(11.7,-0.7),(11.8,0.25),(11.9,-0.45),(11.0,0.9),(11.4,-1.6),
    (11.7,1.3),(11.25,0.05),(11.55,0.6),
    (12.05,-0.6),(12.15,0.15),(12.25,0.9),(12.35,-0.45),(12.45,0.25),(12.55,1.0),(12.65,-1.0),(12.75,0.55),(12.85,-0.3),(12.95,0.75),
    (12.1,1.1),(12.2,-0.1),(12.3,-0.95),(12.4,0.1),(12.5,0.6),(12.6,-0.55),(12.7,1.3),(12.8,0.2),(12.9,-0.75),(12.0,0.35),(12.3,-0.35),
    (12.5,-1.1),(12.7,-0.15),(12.45,0.45),
    (13.05,0.55),(13.15,-0.3),(13.25,0.25),(13.35,-0.9),(13.45,0.7),(13.55,-0.5),(13.65,0.3),(13.75,-1.1),(13.85,0.15),(13.95,-0.4),
    (13.1,-0.1),(13.3,1.25),(13.5,0.0),(13.7,0.6),(13.9,-1.2),(13.2,-1.0),(13.6,-0.8),(13.8,1.4),
    (14.05,0.4),(14.15,-0.3),(14.25,0.6),(14.35,1.0),(14.45,-0.6),(14.55,0.25),(14.65,0.0),(14.75,-1.3),(14.85,0.55),(14.95,0.3),
    (14.2,-0.85),(14.5,-0.15),(14.8,1.1),(14.4,0.75),
    (15.05,0.35),(15.15,-0.4),(15.25,-0.1),(15.35,0.6),(15.45,0.2),(15.55,-0.85),(15.65,0.9),(15.75,-1.05),(15.85,0.0),(15.95,0.55),
    (15.2,-1.3),(15.5,0.95),(15.8,-0.3),(15.4,-0.65),
    (16.05,-0.5),(16.15,0.2),(16.25,0.7),(16.35,-0.3),(16.45,1.0),(16.55,-1.1),(16.65,0.45),(16.75,0.1),(16.85,-0.6),(16.95,-1.05),
    (16.3,-0.05),(16.5,0.35),(16.7,-0.8),(16.9,0.6),
    (17.05,0.5),(17.15,-0.6),(17.25,0.15),(17.35,-0.25),(17.45,0.85),(17.55,0.3),(17.65,-0.95),(17.75,0.1),(17.85,0.55),(17.95,-0.15),
    (17.4,-1.3),(17.8,1.05),
    (18.02,0.6),(18.12,-0.2),(18.22,0.35),(18.32,-0.65),(18.42,1.0),(18.52,0.1),(18.62,-0.35),(18.72,0.7),(18.82,-0.6),(18.92,0.4),
    (18.08,-0.9),(18.18,0.15),(18.28,1.2),(18.38,-0.05),(18.48,0.55),(18.58,-1.1),(18.68,0.3),(18.78,-0.2),(18.88,1.45),(18.98,-0.35),
    (18.35,-1.4),(18.55,1.1),(18.75,0.45),(18.95,0.85),(18.25,0.75),(18.65,-0.85),(18.85,-0.45),(18.45,0.2),(18.9,-1.0),(18.6,1.4),
    (22.55,-0.3),(22.75,0.55),(22.95,-0.5),(23.05,0.8),(23.15,-0.95),(23.25,0.4),(23.35,0.05),(23.45,-1.0),(23.1,1.0),(23.3,1.6),
    (23.4,-0.4),(23.2,0.2),(23.0,-0.2),(22.85,0.35),(23.45,0.5),
    (23.52,0.1),(23.57,0.6),(23.62,-0.9),(23.67,0.3),(23.72,-0.15),(23.77,1.3),(23.82,0.55),(23.87,-1.1),(23.92,0.15),(23.97,-0.35),
    (23.52,-0.55),(23.57,-1.3),(23.62,0.05),(23.67,0.95),(23.72,0.4),(23.77,-0.65),(23.82,0.9),(23.87,-0.1),(23.92,1.05),(23.97,0.4),
    (23.52,0.75),(23.57,0.3),(23.62,1.5),(23.67,-1.5),(23.72,-0.6),(23.77,0.1),(23.82,-1.4),(23.87,0.6),(23.92,-0.85),(23.97,-0.05),
    (23.55,1.05),(23.65,-0.35),(23.75,0.7),(23.85,-0.7),(23.95,0.2),(23.6,-1.2),(23.7,1.1),(23.8,-1.6),(23.9,0.8),(23.58,-0.05),
    (24.02,0.05),(24.07,-0.75),(24.12,0.7),(24.17,-0.4),(24.22,0.35),(24.27,0.9),(24.32,-0.2),(24.37,0.45),(24.42,-1.1),(24.47,0.15),
    (24.02,0.6),(24.07,0.3),(24.12,-0.3),(24.17,1.1),(24.22,-0.5),(24.27,-1.0),(24.32,0.7),(24.37,-0.45),(24.42,0.9),(24.47,-0.75),
    (24.02,-0.9),(24.07,1.35),(24.12,-1.35),(24.17,0.55),(24.22,0.95),(24.27,0.0),(24.32,-0.85),(24.37,0.25),(24.42,-0.4),(24.47,1.2),
    (24.02,-0.05),(24.07,-0.25),(24.12,0.25),(24.17,-1.55),(24.22,1.55),(24.27,-0.55),(24.32,1.1),(24.37,-1.2),(24.42,0.55),(24.47,-1.4),
    (24.05,0.45),(24.15,-0.1),(24.25,0.75),(24.35,0.3),(24.45,0.0),(24.1,0.85),(24.2,-0.25),(24.3,0.1),(24.4,0.65),(24.3,-0.65),
    (24.52,-0.25),(24.57,0.4),(24.62,-1.1),(24.67,0.25),(24.72,-0.6),(24.77,1.05),(24.82,0.0),(24.87,-0.5),(24.92,0.55),(24.97,-0.1),
    (24.52,0.9),(24.57,-0.85),(24.62,0.65),(24.67,-0.35),(24.72,0.4),(24.77,-1.3),(24.82,0.6),(24.87,1.3),(24.92,-0.9),(24.97,0.3),
    (24.52,-0.6),(24.57,1.2),(24.62,0.05),(24.67,0.9),(24.72,-1.2),(24.77,-0.2),(24.82,-0.75),(24.87,0.25),(24.92,1.6),(24.97,-1.45),
    (24.55,0.15),(24.65,-0.7),(24.75,0.65),(24.85,-0.3),(24.95,0.6),(24.6,1.0),(24.7,-0.05),(24.8,-1.05),(24.9,0.35),(24.62,-1.6),
    (24.72,1.35),(24.82,1.6),(24.87,-1.6),(24.57,0.05),(24.77,0.3),
    (25.02,0.15),(25.07,-0.35),(25.12,0.8),(25.17,-0.15),(25.22,0.5),(25.27,-0.85),(25.32,0.25),(25.37,-0.3),(25.42,1.0),(25.47,-0.9),
    (25.02,-1.3),(25.07,0.5),(25.12,-0.6),(25.17,1.3),(25.22,-0.4),(25.27,0.4),(25.32,-1.45),(25.37,0.7),(25.42,-0.05),(25.47,0.35),
    (25.05,-0.1),(25.15,0.2),(25.25,-1.1),(25.35,-0.6),(25.45,-1.7),
    (25.58,0.1),(25.68,-0.2),(25.78,0.55),(25.88,-0.45),(25.62,-0.9),(25.72,0.85),(25.82,-1.15),(26.05,0.3),
]

# Linear-fit (blue) line end points
FIT_A_X, FIT_A_Y = [12, 168], [21, 165]
FIT_B_X, FIT_B_Y = [14, 250], [14.5, 248]
FIT_C_X, FIT_C_Y = [1080, 4860], [-0.2, 0.15]
FIT_D_X, FIT_D_Y = [8.5, 26.3], [0.05, -0.05]

# Identity line end points (panels A and B)
IDENTITY = [-13, 273]

# Tick values / labels
CONC_TICKS = [0, 25, 50, 75, 100, 125, 150, 175, 200, 225, 250]
TIME_TICKS = [1000, 1500, 2000, 2500, 3000, 3500, 4000, 4500, 5000]
GA_TICKS = [10, 15, 20, 25]
IWRES_TICKS = [-4, -3, -2, -1, 0, 1, 2, 3, 4]
IWRES_LABELS = ["-4", "-3", "-2", "-1", "0", "1", "2", "3", "4"]

# ---------------- STYLE ----------------
W, H = 945, 667
FONT = "Liberation Sans, Arial, Helvetica, sans-serif"
GRID_MAJOR = "#d9d9d9"
GRID_MINOR = "#ececec"
BORDER = "#9a9a9a"
BLUE = "#3a66c4"
DOT = dict(color="black", size=4.8)


def px_dom(a, b, total):
    return [a / total, b / total]


def py_dom(top, bottom):
    return [1 - bottom / H, 1 - top / H]


def axis(domain, rng, tickvals, ticktext, minor_tick0, minor_dtick, anchor):
    return dict(
        domain=domain, range=rng, anchor=anchor,
        tickmode="array", tickvals=tickvals, ticktext=ticktext,
        showgrid=True, gridcolor=GRID_MAJOR, gridwidth=1,
        minor=dict(tickmode="linear", tick0=minor_tick0, dtick=minor_dtick,
                   showgrid=True, gridcolor=GRID_MINOR, gridwidth=0.8),
        showline=True, mirror=True, linecolor=BORDER, linewidth=1,
        ticks="outside", ticklen=3, tickcolor=BORDER,
        tickfont=dict(family=FONT, size=11.5, color="#5a5a5a"),
        zeroline=False, fixedrange=True,
    )


conc_lbl = [str(v) for v in CONC_TICKS]
time_lbl = [str(v) for v in TIME_TICKS]
ga_lbl = [str(v) for v in GA_TICKS]

top_dom = py_dom(24, 268)
bot_dom = py_dom(362, 608)
left_dom = px_dom(77, 468, W)
right_dom = px_dom(553, 943, W)
right_dom_d = px_dom(554, 943, W)

fig = go.Figure()

panels = [
    ("x", "y", A_PRED_OBS + A_PRED_OBS_CORE, FIT_A_X, FIT_A_Y, True),
    ("x2", "y2", B_IPRED_OBS, FIT_B_X, FIT_B_Y, True),
    ("x3", "y3", C_TIME_IWRES + C_TIME_IWRES_CORE, FIT_C_X, FIT_C_Y, False),
    ("x4", "y4", D_GA_IWRES + D_GA_IWRES_CORE, FIT_D_X, FIT_D_Y, False),
]
for xa, ya, pts, fx, fy, identity in panels:
    if identity:
        fig.add_trace(go.Scatter(x=IDENTITY, y=IDENTITY, mode="lines",
                                 line=dict(color="#222222", width=1),
                                 xaxis=xa, yaxis=ya, showlegend=False, hoverinfo="skip"))
    fig.add_trace(go.Scatter(x=[p[0] for p in pts], y=[p[1] for p in pts], mode="markers",
                             marker=DOT, xaxis=xa, yaxis=ya, showlegend=False))
    fig.add_trace(go.Scatter(x=fx, y=fy, mode="lines", line=dict(color=BLUE, width=2.6),
                             xaxis=xa, yaxis=ya, showlegend=False, hoverinfo="skip"))

# zero reference lines in C and D
for xr, yr in (("x3 domain", "y3"), ("x4 domain", "y4")):
    fig.add_shape(type="line", xref=xr, yref=yr, x0=0, x1=1, y0=0, y1=0,
                  line=dict(color="#3a3a3a", width=1.4), layer="above")

fig.update_layout(
    width=W, height=H, margin=dict(l=0, r=0, t=0, b=0),
    paper_bgcolor="white", plot_bgcolor="white", showlegend=False,
    font=dict(family=FONT),
    xaxis=axis(left_dom, [-13, 273], CONC_TICKS, conc_lbl, 0, 12.5, "y"),
    yaxis=axis(top_dom, [-13, 273], CONC_TICKS, conc_lbl, 0, 12.5, "x"),
    xaxis2=axis(right_dom, [-13, 273], CONC_TICKS, conc_lbl, 0, 12.5, "y2"),
    yaxis2=axis(top_dom, [-13, 273], CONC_TICKS, conc_lbl, 0, 12.5, "x2"),
    xaxis3=axis(left_dom, [845, 5195], TIME_TICKS, time_lbl, 1000, 250, "y3"),
    yaxis3=axis(bot_dom, [-4.41, 4.41], IWRES_TICKS, IWRES_LABELS, 0, 0.5, "x3"),
    xaxis4=axis(right_dom_d, [7.65, 27.06], GA_TICKS, ga_lbl, 10, 2.5, "y4"),
    yaxis4=axis(bot_dom, [-4.41, 4.41], IWRES_TICKS, IWRES_LABELS, 0, 0.5, "x4"),
)

TITLE_FONT = dict(family=FONT, size=18, color="#1a1a1a")
LABEL_FONT = dict(family=FONT, size=18, color="black", weight="bold")


def ann(text, xpx, ypx, font, angle=0, xanchor="center"):
    fig.add_annotation(text=text, x=xpx / W, y=1 - ypx / H, xref="paper", yref="paper",
                       showarrow=False, font=font, textangle=angle,
                       xanchor=xanchor, yanchor="middle")


ann("<b>A.</b>", 21, 16.5, LABEL_FONT, xanchor="left")
ann("<b>B.</b>", 497, 16.5, LABEL_FONT, xanchor="left")
ann("<b>C.</b>", 21, 355, LABEL_FONT, xanchor="left")
ann("<b>D.</b>", 497, 355, LABEL_FONT, xanchor="left")

ann("Population prediction (nmol/L)", 272, 313, TITLE_FONT)
ann("Individual prediction (nmol/L)", 749, 313, TITLE_FONT)
ann("Time (h)", 272, 653, TITLE_FONT)
ann("Gestational age (weeks)", 749, 653, TITLE_FONT)
ann("Observation (nmol/L)", 19, 143, TITLE_FONT, angle=-90)
ann("Observation (nmol/L)", 495, 146, TITLE_FONT, angle=-90)
ann("IWRES", 18, 485, TITLE_FONT, angle=-90)
ann("IWRES", 495, 485, TITLE_FONT, angle=-90)

fig.write_html("out.html")
